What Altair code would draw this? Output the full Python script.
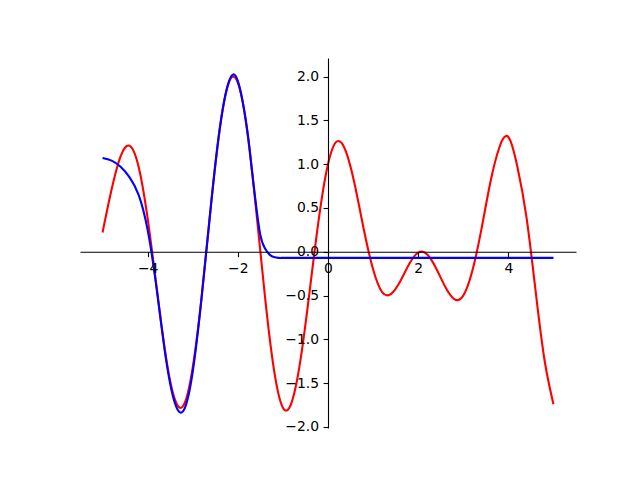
import altair as alt
import pandas as pd

# Red curve
red_x = [-5.0, -4.8, -4.6, -4.4, -4.2, -4.0, -3.8, -3.6, -3.4, -3.2, -3.0,
         -2.8, -2.6, -2.4, -2.2, -2.0, -1.8, -1.6, -1.4, -1.2, -1.0,
         -0.8, -0.6, -0.4, -0.2, 0.0, 0.2, 0.4, 0.6, 0.8, 1.0,
         1.2, 1.4, 1.6, 1.8, 2.0, 2.2, 2.4, 2.6, 2.8, 3.0,
         3.2, 3.4, 3.6, 3.8, 4.0, 4.2, 4.4, 4.6, 4.8, 5.0]
red_y = [0.22, 0.71, 1.09, 1.21, 0.97, 0.38, -0.41, -1.18, -1.68, -1.75, -1.32,
         -0.50, 0.51, 1.40, 1.93, 1.93, 1.41, 0.51, -0.50, -1.34, -1.78,
         -1.71, -1.20, -0.42, 0.39, 1.0, 1.26, 1.14, 0.75, 0.24, -0.20,
         -0.46, -0.48, -0.34, -0.14, -0.01, -0.03, -0.19, -0.40, -0.54, -0.50,
         -0.22, 0.25, 0.79, 1.19, 1.31, 0.97, 0.40, -0.43, -1.23, -1.74]

# Blue curve
blue_x = [-5.0, -4.8, -4.6, -4.4, -4.2, -4.0, -3.8, -3.6, -3.4, -3.2, -3.0,
          -2.8, -2.6, -2.4, -2.2, -2.0, -1.8, -1.7, -1.6, -1.5, -1.4, -1.3,
          -1.2, -1.1, -1.0, -0.8, -0.5, 0.0, 1.0, 2.0, 3.0, 4.0, 5.0]
blue_y = [1.07, 1.04, 0.97, 0.85, 0.65, 0.25, -0.42, -1.20, -1.72, -1.81, -1.37,
          -0.51, 0.51, 1.41, 1.94, 1.95, 1.42, 0.99, 0.55, 0.19, 0.04, -0.03,
          -0.06, -0.07, -0.07, -0.07, -0.07, -0.07, -0.07, -0.07, -0.07, -0.07, -0.07]

x_ticks = [-4, -2, 0, 2, 4]
y_ticks = [-2.0, -1.5, -1.0, -0.5, 0.0, 0.5, 1.0, 1.5, 2.0]

red_df = pd.DataFrame({"x": red_x, "y": red_y})
blue_df = pd.DataFrame({"x": blue_x, "y": blue_y})

XMIN, XMAX = -5.5, 5.5
YMIN, YMAX = -2.012, 2.212
W, H = 496, 370

x_off = -(H * (0 - YMIN) / (YMAX - YMIN))
y_off = -(W * (0 - XMIN) / (XMAX - XMIN))

axis_common = dict(
    grid=False, domainColor="black", domainWidth=1.1, tickColor="black",
    tickWidth=1.1, tickSize=4.9, labelPadding=4.5, labelFont="DejaVu Sans",
    labelFontSize=13.9, labelColor="black", zindex=1, title=None,
)

xs = alt.Scale(domain=[XMIN, XMAX], nice=False, zero=False)
ys = alt.Scale(domain=[YMIN, YMAX], nice=False, zero=False)

red = alt.Chart(red_df).mark_line(color="#ff0000", strokeWidth=2.1, interpolate="natural").encode(
    x=alt.X("x:Q", scale=xs, axis=alt.Axis(values=x_ticks, format="d", offset=x_off, **axis_common)),
    y=alt.Y("y:Q", scale=ys, axis=alt.Axis(values=y_ticks, format=".1f", offset=y_off, **axis_common)),
)
blue = alt.Chart(blue_df).mark_line(color="#0000ff", strokeWidth=2.1, interpolate="natural").encode(
    x=alt.X("x:Q", scale=xs),
    y=alt.Y("y:Q", scale=ys),
)

chart = alt.layer(red, blue).properties(
    width=W, height=H,
    background="white",
    autosize=alt.AutoSizeParams(type="none"),
    padding={"left": 72, "top": 50, "right": 50, "bottom": 40},
).configure_view(strokeWidth=0)

chart.save("out.html", embed_options={"renderer": "svg", "actions": False})
